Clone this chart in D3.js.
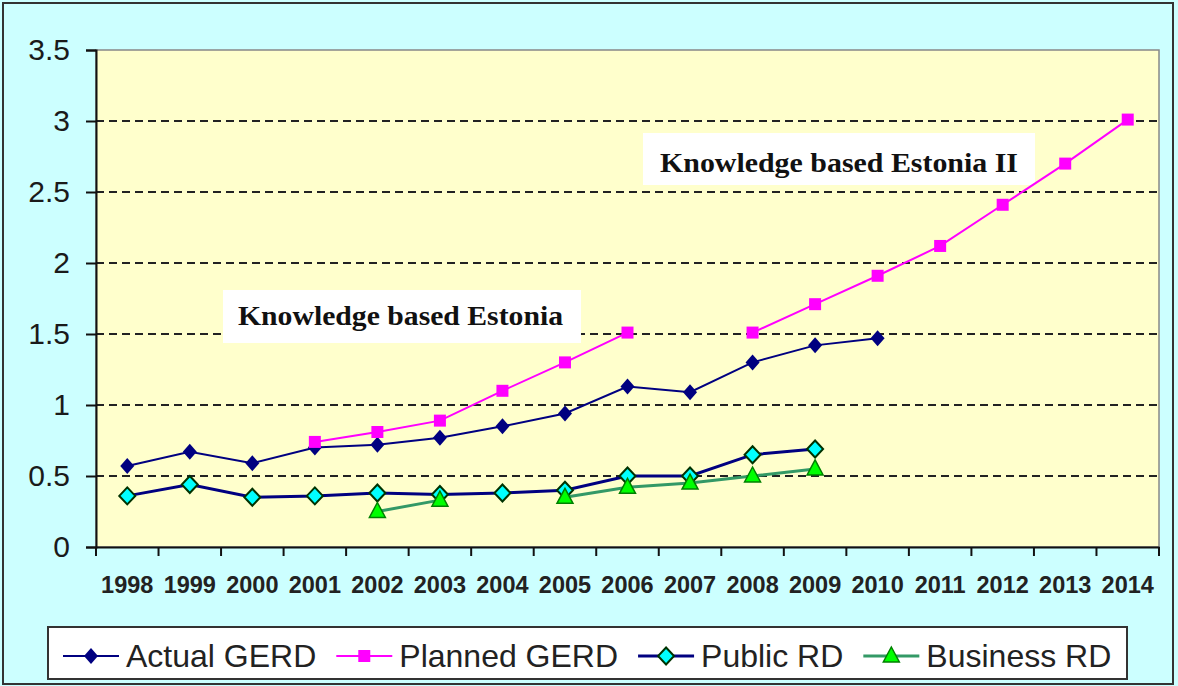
<!DOCTYPE html>
<html>
<head>
<meta charset="utf-8">
<script src="https://cdn.jsdelivr.net/npm/d3@7/dist/d3.min.js"></script>
<style>
  html, body { margin: 0; padding: 0; background: #ccffff; }
  svg { display: block; }
</style>
</head>
<body>
<svg id="chart" width="1178" height="686"></svg>
<script>
// values (% of GDP)
var years = ["1998","1999","2000","2001","2002","2003","2004","2005","2006","2007","2008","2009","2010","2011","2012","2013","2014"];
var actualGerd  = [0.57, 0.67, 0.59, 0.70, 0.72, 0.77, 0.85, 0.94, 1.13, 1.09, 1.30, 1.42, 1.47, null, null, null, null];
var plannedGerd = [null, null, null, 0.74, 0.81, 0.89, 1.10, 1.30, 1.51, null, 1.51, 1.71, 1.91, 2.12, 2.41, 2.70, 3.01];
var publicRd    = [0.36, 0.44, 0.35, 0.36, 0.38, 0.37, 0.38, 0.40, 0.50, 0.50, 0.65, 0.69, null, null, null, null, null];
var businessRd  = [null, null, null, null, 0.25, 0.33, null, 0.35, 0.42, 0.45, 0.50, 0.55, null, null, null, null, null];
var yTicks = [0, 0.5, 1, 1.5, 2, 2.5, 3, 3.5];
var gridValues = [0.5, 1, 1.5, 2, 2.5, 3];
var seriesNames = ["Actual GERD", "Planned GERD", "Public RD", "Business RD"];
var notes = ["Knowledge based Estonia", "Knowledge based Estonia II"];

var svg = d3.select("#chart");

var x = d3.scaleBand().domain(years).range([96, 1159]).padding(0);
var y = d3.scaleLinear().domain([0, 3.5]).range([547, 50]);

// outer frame
svg.append("rect")
    .attr("x", 3).attr("y", 3)
    .attr("width", 1170).attr("height", 681)
    .attr("fill", "#ccffff")
    .attr("stroke", "#333")
    .attr("stroke-width", 2);

// plot area
svg.append("rect")
    .attr("x", 96).attr("y", 50)
    .attr("width", 1159 - 96).attr("height", 547 - 50)
    .attr("fill", "#ffffcc")
    .attr("stroke", "#888")
    .attr("stroke-width", 1.5);

// dashed grid
svg.append("g").selectAll("line")
    .data(gridValues)
    .enter().append("line")
    .attr("x1", 96).attr("x2", 1159)
    .attr("y1", function(d) { return y(d); })
    .attr("y2", function(d) { return y(d); })
    .attr("stroke", "#222")
    .attr("stroke-width", 2)
    .attr("stroke-dasharray", "8,5");

// y axis
var yAxis = svg.append("g")
    .attr("transform", "translate(96,0)")
    .call(d3.axisLeft(y).tickValues(yTicks).tickSize(10).tickPadding(16)
        .tickFormat(function(d) { return String(d); }));
yAxis.select(".domain").attr("stroke", "#111").attr("stroke-width", 2);
yAxis.selectAll(".tick line").attr("stroke", "#111").attr("stroke-width", 2);
yAxis.selectAll(".tick text")
    .attr("font-family", "Liberation Sans, Arial, sans-serif")
    .attr("font-size", 30)
    .attr("fill", "#1a1a1a");

// x axis: labels at centres, ticks at band edges
var xAxis = svg.append("g")
    .attr("transform", "translate(0,547)")
    .call(d3.axisBottom(x).tickSize(0).tickPadding(29));
xAxis.select(".domain").attr("stroke", "#111").attr("stroke-width", 2);
xAxis.selectAll(".tick text")
    .attr("font-family", "Liberation Sans, Arial, sans-serif")
    .attr("font-size", 23.5)
    .attr("font-weight", "bold")
    .attr("fill", "#222");
var edges = years.map(function(d) { return x(d); }).concat([x.range()[1]]);
xAxis.selectAll("line.edge")
    .data(edges)
    .enter().append("line")
    .attr("class", "edge")
    .attr("x1", function(d) { return d; })
    .attr("x2", function(d) { return d; })
    .attr("y1", 0).attr("y2", 9)
    .attr("stroke", "#111")
    .attr("stroke-width", 2);

// note boxes
function addNote(text, bx, by, bw, bh, tx, ty, tw) {
    svg.append("rect")
        .attr("x", bx).attr("y", by)
        .attr("width", bw).attr("height", bh)
        .attr("fill", "#fff");
    svg.append("text")
        .attr("x", tx).attr("y", ty)
        .attr("textLength", tw)
        .attr("lengthAdjust", "spacingAndGlyphs")
        .attr("font-family", "Liberation Serif, Times New Roman, serif")
        .attr("font-weight", "bold")
        .attr("font-size", 27)
        .attr("fill", "#111")
        .text(text);
}
addNote(notes[0], 223, 290, 358, 53, 238, 325, 325);
addNote(notes[1], 643, 133, 392, 52, 660, 172, 358);

// markers
function diamond(w, h) {
    return "M0," + (-h) + "L" + w + ",0L0," + h + "L" + (-w) + ",0Z";
}
function square(s) {
    return "M" + (-s) + "," + (-s) + "h" + (2 * s) + "v" + (2 * s) + "h" + (-2 * s) + "Z";
}
function triangle(w, h) {
    return "M0," + (-h * 0.6) + "L" + w + "," + (h * 0.4) + "L" + (-w) + "," + (h * 0.4) + "Z";
}

var series = [
    { name: seriesNames[0], values: actualGerd,  line: "#000080", lw: 2, shape: diamond(7, 8),   fill: "#000080", stroke: "none",    sw: 0 },
    { name: seriesNames[1], values: plannedGerd, line: "#ff00ff", lw: 2, shape: square(6),       fill: "#ff00ff", stroke: "none",    sw: 0 },
    { name: seriesNames[2], values: publicRd,    line: "#000080", lw: 3, shape: diamond(8, 8.5), fill: "#00ffff", stroke: "#003300", sw: 2 },
    { name: seriesNames[3], values: businessRd,  line: "#339966", lw: 3, shape: triangle(8, 15), fill: "#00ff00", stroke: "#008000", sw: 1.5 }
];

var line = d3.line()
    .defined(function(d) { return d.v !== null; })
    .x(function(d) { return x(d.year) + x.bandwidth() / 2; })
    .y(function(d) { return y(d.v); });

series.forEach(function(s) {
    var pts = years.map(function(yr, i) { return { year: yr, v: s.values[i] }; });
    svg.append("path")
        .datum(pts)
        .attr("d", line)
        .attr("fill", "none")
        .attr("stroke", s.line)
        .attr("stroke-width", s.lw);
    svg.append("g").selectAll("path")
        .data(pts.filter(function(d) { return d.v !== null; }))
        .enter().append("path")
        .attr("transform", function(d) {
            return "translate(" + (x(d.year) + x.bandwidth() / 2) + "," + y(d.v) + ")";
        })
        .attr("d", s.shape)
        .attr("fill", s.fill)
        .attr("stroke", s.stroke)
        .attr("stroke-width", s.sw);
});

// legend
var legend = svg.append("g");
legend.append("rect")
    .attr("x", 48).attr("y", 627)
    .attr("width", 1127 - 48).attr("height", 52)
    .attr("fill", "#fff")
    .attr("stroke", "#333")
    .attr("stroke-width", 2);

var lx = 63;
series.forEach(function(s) {
    var g = legend.append("g").attr("transform", "translate(" + lx + ",656)");
    g.append("line")
        .attr("x1", 0).attr("x2", 56)
        .attr("stroke", s.line)
        .attr("stroke-width", s.lw);
    g.append("path")
        .attr("transform", "translate(28,0)")
        .attr("d", s.shape)
        .attr("fill", s.fill)
        .attr("stroke", s.stroke)
        .attr("stroke-width", s.sw);
    var t = g.append("text")
        .attr("x", 63).attr("y", 11)
        .attr("font-family", "Liberation Sans, Arial, sans-serif")
        .attr("font-size", 32)
        .attr("fill", "#222")
        .text(s.name);
    lx += 63 + t.node().getComputedTextLength() + 20;
});
</script>
</body>
</html>
